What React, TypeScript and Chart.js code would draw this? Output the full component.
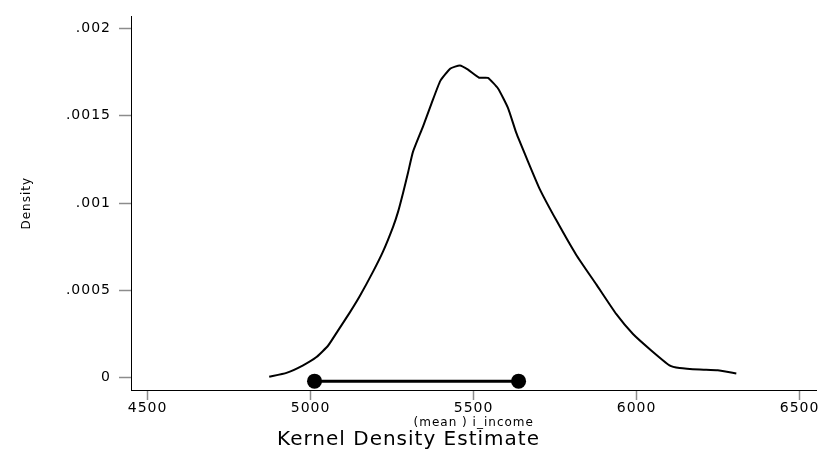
import React, { useEffect, useRef } from "react";
import { Chart, registerables } from "chart.js";

Chart.register(...registerables);

// Kernel density curve (x = i_income, y = density)
const densityX = [
  4873, 4926, 4977, 5018, 5054, 5084, 5120, 5151, 5192, 5222, 5253, 5268, 5284,
  5299, 5314, 5345, 5371, 5398, 5429, 5458, 5483, 5517, 5544, 5575, 5606, 5631,
  5662, 5703, 5754, 5815, 5877, 5938, 5989, 6045, 6101, 6132, 6194, 6249, 6306,
];
const densityY = [
  0.0000057, 0.0000283, 0.0000718, 0.000119, 0.000185, 0.00027, 0.000373,
  0.000468, 0.000609, 0.000722, 0.000864, 0.000948, 0.001061, 0.001175,
  0.001293, 0.001439, 0.00157, 0.001699, 0.00177, 0.001787, 0.001763, 0.001717,
  0.001716, 0.001655, 0.001542, 0.001401, 0.00126, 0.00108, 0.000901, 0.000703,
  0.000533, 0.000364, 0.000251, 0.000157, 0.0000718, 0.0000566, 0.0000475,
  0.0000435, 0.0000249,
];

// Interval of the mean, drawn as a dumbbell under the curve
const intervalX = [5012, 5638];
const intervalY = [-0.000019, -0.000019];

const xTickValues = [4500, 5000, 5500, 6000, 6500];
const xTickLabels = ["4500", "5000", "5500", "6000", "6500"];
const yTickValues = [0, 0.0005, 0.001, 0.0015, 0.002];
const yTickLabels = ["0", ".0005", ".001", ".0015", ".002"];

const titleText = "Kernel Density Estimate";
const xTitle = "(mean ) i_income";
const yTitle = "Density";

const FONT = "'DejaVu Sans', sans-serif";

export default function App() {
  const ref = useRef<HTMLCanvasElement | null>(null);

  useEffect(() => {
    document.body.style.margin = "0";
    const canvas = ref.current;
    if (!canvas) return;

    const spacing = {
      id: "spacing",
      beforeDraw(chart: any) {
        chart.ctx.letterSpacing = "1px";
      },
      afterDraw(chart: any) {
        chart.ctx.letterSpacing = "0px";
      },
    };

    const chart = new Chart(canvas, {
      type: "scatter",
      data: {
        datasets: [
          {
            label: "density",
            data: densityX.map((x, i) => ({ x, y: densityY[i] })),
            showLine: true,
            borderColor: "#000",
            borderWidth: 2,
            pointRadius: 0,
            tension: 0.15,
          },
          {
            label: "interval",
            data: intervalX.map((x, i) => ({ x, y: intervalY[i] })),
            showLine: true,
            borderColor: "#000",
            backgroundColor: "#000",
            borderWidth: 3,
            pointRadius: 7.5,
            pointBorderWidth: 0,
          },
        ],
      },
      plugins: [spacing],
      options: {
        animation: false,
        responsive: false,
        maintainAspectRatio: false,
        layout: { padding: { top: 12, right: 7, left: 0, bottom: 0 } },
        plugins: {
          legend: { display: false },
          tooltip: { enabled: false },
          title: {
            display: true,
            position: "bottom",
            text: titleText,
            color: "#000",
            font: { family: FONT, size: 20, weight: "normal", lineHeight: 1 },
            padding: { top: 0, bottom: 2 },
          },
        },
        scales: {
          x: {
            type: "linear",
            min: 4449,
            max: 6552,
            afterBuildTicks(scale: any) {
              scale.ticks = xTickValues.map((v) => ({ value: v }));
            },
            afterFit(scale: any) {
              scale.height = 40;
            },
            ticks: {
              color: "#000",
              font: { family: FONT, size: 14 },
              padding: 0,
              maxRotation: 0,
              autoSkip: false,
              callback: (v: any) => {
                const i = xTickValues.indexOf(Number(v));
                return i >= 0 ? xTickLabels[i] : "";
              },
            },
            grid: {
              display: true,
              drawOnChartArea: false,
              drawTicks: true,
              tickLength: 10,
              tickColor: "#8c8c8c",
              tickWidth: 1.5,
            },
            border: { display: true, color: "#000", width: 1 },
            title: {
              display: true,
              text: xTitle,
              color: "#000",
              font: { family: FONT, size: 12 },
              padding: { top: 0, bottom: 0 },
            },
          },
          y: {
            type: "linear",
            min: -0.0000696,
            max: 0.0020679,
            afterBuildTicks(scale: any) {
              scale.ticks = yTickValues.map((v) => ({ value: v }));
            },
            afterFit(scale: any) {
              scale.width = 131;
            },
            ticks: {
              color: "#000",
              font: { family: FONT, size: 14 },
              padding: 8,
              autoSkip: false,
              callback: (v: any) => {
                const i = yTickValues.indexOf(Number(v));
                return i >= 0 ? yTickLabels[i] : "";
              },
            },
            grid: {
              display: true,
              drawOnChartArea: false,
              drawTicks: true,
              tickLength: 12,
              tickColor: "#8c8c8c",
              tickWidth: 1.5,
            },
            border: { display: true, color: "#000", width: 1 },
            title: {
              display: true,
              text: yTitle,
              color: "#000",
              font: { family: FONT, size: 12 },
              padding: { top: 20, bottom: 0 },
            },
          },
        },
      },
    });

    return () => chart.destroy();
  }, []);

  return (
    <div style={{ position: "relative", width: 824, height: 452, background: "#fff" }}>
      <canvas ref={ref} width={824} height={452} style={{ width: 824, height: 452 }} />
    </div>
  );
}
